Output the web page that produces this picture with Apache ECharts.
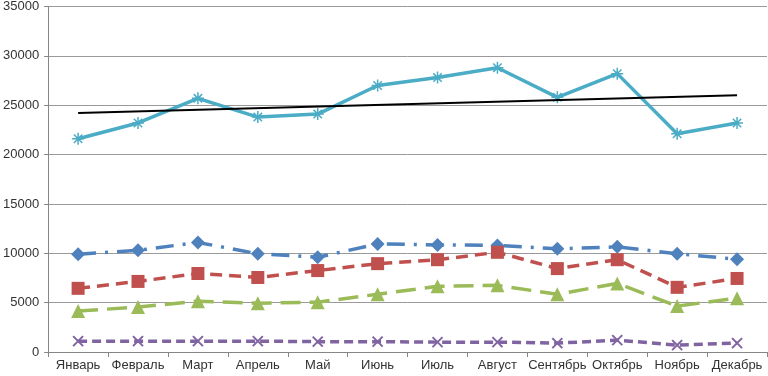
<!DOCTYPE html>
<html>
<head>
<meta charset="utf-8">
<script src="https://cdn.jsdelivr.net/npm/echarts@6/dist/echarts.min.js"></script>
<style>
  html, body { margin: 0; padding: 0; background: #fff; }
  #chart { width: 768px; height: 376px; }
</style>
</head>
<body>
<div id="chart"></div>
<script>
!function () {

    'use strict';

    var months = [ 'Январь', 'Февраль', 'Март', 'Апрель', 'Май', 'Июнь',
                   'Июль', 'Август', 'Сентябрь', 'Октябрь', 'Ноябрь', 'Декабрь' ];

    var totalValues  = [ 21600, 23200, 25700, 23800, 24100, 27000, 27800, 28800, 25800, 28200, 22100, 23200 ];
    var trendValues  = [ 24200, null, null, null, null, null, null, null, null, null, null, 26000 ];
    var blueValues   = [ 9900, 10300, 11100, 9950, 9600, 10950, 10850, 10800, 10450, 10650, 9950, 9400 ];
    var redValues    = [ 6450, 7150, 7950, 7550, 8250, 8950, 9350, 10100, 8450, 9350, 6550, 7450 ];
    var greenValues  = [ 4150, 4550, 5150, 4950, 5050, 5850, 6650, 6750, 5850, 6950, 4650, 5450 ];
    var purpleValues = [ 1100, 1100, 1100, 1100, 1050, 1050, 1000, 1000, 900, 1200, 700, 900 ];

    var yTicks = [ 0, 5000, 10000, 15000, 20000, 25000, 30000, 35000 ];

    var asterisk = 'path://M0 5 L10 5 M5 0 L5 10 M1.5 1.5 L8.5 8.5 M8.5 1.5 L1.5 8.5';
    var cross = 'path://M0 0 L10 10 M10 0 L0 10';

    function lineSeries(name, data, color, dash, symbol, size, extra) {
        var s = {
            name: name,
            type: 'line',
            data: data,
            symbol: symbol,
            symbolSize: size,
            showAllSymbol: true,
            z: 3,
            lineStyle: { color: color, width: 3.5, type: dash },
            itemStyle: { color: color }
        };
        for (var k in extra) { s[k] = extra[k]; }
        return s;
    }

    var option = {
        animation: false,
        backgroundColor: '#fff',
        textStyle: { fontFamily: 'Liberation Sans, Arial, sans-serif' },
        grid: { left: 47, right: 1, top: 5, bottom: 24 },
        xAxis: {
            type: 'category',
            data: months,
            boundaryGap: true,
            axisLine: { lineStyle: { color: '#868686', width: 1 } },
            axisTick: { show: true, length: 5, lineStyle: { color: '#868686' } },
            axisLabel: { color: '#333', fontSize: 13, margin: 7, interval: 0 }
        },
        yAxis: {
            type: 'value',
            min: yTicks[0],
            max: yTicks[yTicks.length - 1],
            interval: 5000,
            axisLine: { show: true, lineStyle: { color: '#868686', width: 1 } },
            axisTick: { show: true, length: 4, lineStyle: { color: '#868686' } },
            axisLabel: {
                color: '#333', fontSize: 13, margin: 9,
                formatter: function (v) { return String(v); }
            },
            splitLine: { lineStyle: { color: '#9a9a9a', width: 1 } }
        },
        series: [
            lineSeries('Итого', totalValues, '#4BACC6', 'solid', asterisk, 12, {
                itemStyle: { color: 'none', borderColor: '#4BACC6', borderWidth: 1.5 },
                z: 4
            }),
            {
                name: 'Линейная (Итого)',
                type: 'line',
                data: trendValues,
                connectNulls: true,
                symbol: 'none',
                z: 5,
                lineStyle: { color: '#000', width: 2 }
            },
            lineSeries('Ряд 1', blueValues, '#4F81BD', [18, 9, 3, 9], 'diamond', 14),
            lineSeries('Ряд 2', redValues, '#C0504D', [12, 7], 'rect', 13),
            lineSeries('Ряд 3', greenValues, '#9BBB59', [20, 9], 'triangle', 14),
            lineSeries('Ряд 4', purpleValues, '#8064A2', [9, 5], cross, 10, {
                itemStyle: { color: 'none', borderColor: '#8064A2', borderWidth: 2 }
            })
        ]
    };

    var chart = echarts.init(document.getElementById('chart'), null, { renderer: 'canvas' });
    chart.setOption(option);
}();
</script>
</body>
</html>
